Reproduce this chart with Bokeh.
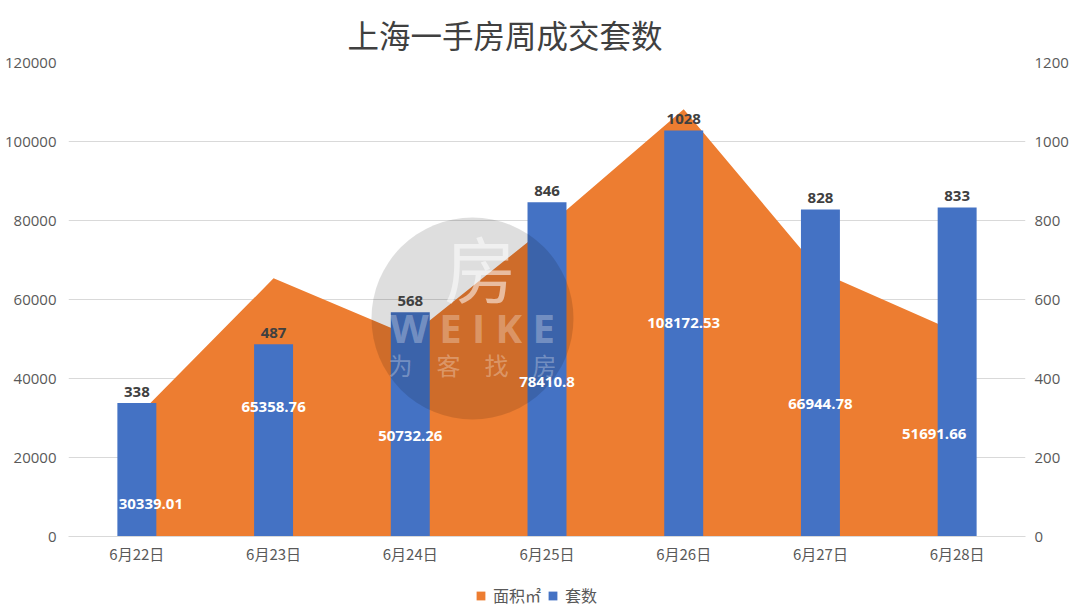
from bokeh.plotting import figure
from bokeh.layouts import column
from bokeh.models import (Range1d, LinearAxis, FixedTicker, BasicTickFormatter,
                          Legend, LegendItem, ColumnDataSource)
from bokeh.core.properties import value
from bokeh.embed import file_html
from bokeh.resources import INLINE

categories = ["6月22日", "6月23日", "6月24日", "6月25日", "6月26日", "6月27日", "6月28日"]
area_m2 = [30339.01, 65358.76, 50732.26, 78410.8, 108172.53, 66944.78, 51691.66]
units = [338, 487, 568, 846, 1028, 828, 833]
left_ticks = [0, 20000, 40000, 60000, 80000, 100000, 120000]
right_ticks = [0, 200, 400, 600, 800, 1000, 1200]
series_names = ["面积㎡", "套数"]

ORANGE = "#ED7D31"
BLUE = "#4472C4"
GRID = "#D9D9D9"
TXT = "#595959"

idx = list(range(len(categories)))

p = figure(width=1080, height=577, output_backend="svg", toolbar_location=None,
           x_range=Range1d(-0.5, len(categories) - 0.5),
           y_range=Range1d(0, 120000),
           min_border_left=68, min_border_right=55, min_border_top=62, min_border_bottom=41)
p.extra_y_ranges = {"right": Range1d(0, 1200)}
p.outline_line_color = None
p.background_fill_color = "white"

# title
p.title.text = "上海一手房周成交套数"
p.title.text_font = "Noto Sans CJK SC"
p.title.text_font_size = "31.5px"
p.title.text_font_style = "normal"
p.title.text_color = "#404040"
p.title.align = "left"
p.title.offset = 279
p.title.standoff = 11

# axes
p.xaxis.ticker = FixedTicker(ticks=idx)
p.xaxis.major_label_overrides = {i: c for i, c in zip(idx, categories)}
p.xaxis.axis_line_color = GRID
p.xaxis.major_tick_line_color = None
p.xaxis.major_tick_out = 0
p.xaxis.minor_tick_line_color = None
p.xaxis.minor_tick_out = 0
p.xaxis.major_label_text_font = "Noto Sans CJK SC"
p.xaxis.major_label_text_font_size = "15px"
p.xaxis.major_label_text_color = TXT
p.xaxis.major_label_standoff = 6

p.yaxis.ticker = FixedTicker(ticks=left_ticks)
p.yaxis.formatter = BasicTickFormatter(use_scientific=False)
ra = LinearAxis(y_range_name="right", ticker=FixedTicker(ticks=right_ticks))
p.add_layout(ra, "right")
for ax in (p.yaxis[0], ra):
    ax.axis_line_color = None
    ax.major_tick_line_color = None
    ax.major_tick_out = 0
    ax.minor_tick_line_color = None
    ax.minor_tick_out = 0
    ax.major_label_text_font = "Open Sans"
    ax.major_label_text_font_size = "15px"
    ax.major_label_text_color = TXT
p.yaxis[0].major_label_standoff = 12
ra.major_label_standoff = 9

p.xgrid.grid_line_color = None
p.ygrid.grid_line_color = GRID
p.ygrid.grid_line_width = 1

# area series
p.varea(x=idx, y1=[0] * len(idx), y2=area_m2, fill_color=ORANGE)
# bar series
p.vbar(x=idx, top=units, width=0.285, bottom=0, y_range_name="right",
       fill_color=BLUE, line_color=None)

# watermark
p.scatter(x=[2.455], y=[55190], size=202, marker="circle",
          fill_color="black", fill_alpha=0.13, line_color=None)
p.text(x=[2.514], y=[68600], text=["房"], text_font=value("Noto Sans CJK SC"),
       text_font_size="72px", text_color="white", text_alpha=0.55,
       text_align="center", text_baseline="middle")
p.text(x=[2.455], y=[52900], text=["W E I K E"], text_font=value("Open Sans"),
       text_font_size="40px", text_font_style="bold", text_color="white", text_alpha=0.3,
       text_align="center", text_baseline="middle")
p.text(x=[2.455], y=[43500], text=["为　客　找　房"], text_font=value("Noto Sans CJK SC"),
       text_font_size="24px", text_color="white", text_alpha=0.3,
       text_align="center", text_baseline="middle")

# bar labels
p.text(x=idx, y=units, text=[str(u) for u in units], y_range_name="right",
       text_font=value("Open Sans"), text_font_size="15px", text_font_style="bold",
       text_color="#404040", text_align="center", text_baseline="bottom", y_offset=-6)

# area labels (centered in area; first and last nudged as in original)
label_dx = [14, 0, 0, 0, 0, 0, -23]
label_dy = [27, 0, 0, 0, 0, 0, 0]
src = ColumnDataSource(dict(x=idx, y=[v / 2 for v in area_m2],
                            t=[str(v) for v in area_m2], dx=label_dx, dy=label_dy))
p.text(x="x", y="y", text="t", x_offset="dx", y_offset="dy", source=src,
       text_font=value("Open Sans"), text_font_size="15px", text_font_style="bold",
       text_color="white", text_align="center", text_baseline="middle")

# legend strip underneath the chart (swatch renderers have zero size)
lg = figure(width=1080, height=36, output_backend="svg", toolbar_location=None,
            x_range=Range1d(0, 1), y_range=Range1d(0, 1),
            min_border_left=0, min_border_right=0, min_border_top=0, min_border_bottom=0)
lg.axis.visible = False
lg.grid.visible = False
lg.outline_line_color = None
r_area = lg.varea(x=[0.5, 0.6], y1=[0, 0], y2=[0, 0], fill_color=ORANGE)
r_bar = lg.vbar(x=[0.5], top=[0], bottom=[0], width=0.0, fill_color=BLUE, line_color=None)
legend = Legend(items=[LegendItem(label=series_names[0], renderers=[r_area]),
                       LegendItem(label=series_names[1], renderers=[r_bar])],
                orientation="horizontal", location=(407, 6),
                label_text_font="Noto Sans CJK SC", label_text_font_size="16px",
                label_text_color=TXT, glyph_width=11, glyph_height=11,
                label_standoff=7, spacing=6, padding=0, margin=0,
                border_line_color=None, background_fill_alpha=0)
lg.add_layout(legend, "center")

layout = column(p, lg, spacing=0)
open("out.html", "w").write(file_html(layout, INLINE))
